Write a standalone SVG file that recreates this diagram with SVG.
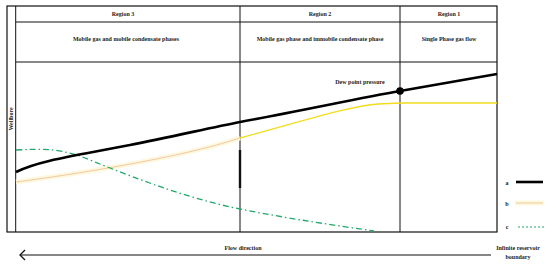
<svg xmlns="http://www.w3.org/2000/svg" width="550" height="267" viewBox="0 0 550 267">
<style>
text{font-family:"Liberation Serif","Times New Roman",serif;font-weight:bold;fill:#222;font-size:6px;text-anchor:middle}
.frame{fill:none;stroke:#111;stroke-width:1.2}
.grid{stroke:#111;stroke-width:1}
.pale{fill:none;stroke:#fef8dc;stroke-width:5}
.salmon{fill:none;stroke:#ecbc9c;stroke-width:0.8}
</style>
<defs>
<marker id="chev" markerWidth="10" markerHeight="12" refX="1" refY="6" orient="auto" markerUnits="userSpaceOnUse">
<path d="M6,1 L1,6 L6,11" fill="none" stroke="#111" stroke-width="1.3"/>
</marker>
</defs>
<rect width="550" height="267" fill="#fff"/>
<g id="frame">
<rect class="frame" x="7" y="6" width="490" height="226"/>
<line class="grid" x1="15.7" y1="6" x2="15.7" y2="232"/>
<line class="grid" x1="15.7" y1="22" x2="497" y2="22"/>
<line class="grid" x1="15.7" y1="62" x2="497" y2="62"/>
<line class="grid" x1="240" y1="6" x2="240" y2="232"/>
<line x1="240" y1="150" x2="240" y2="188" stroke="#111" stroke-width="2.4"/>
<line class="grid" x1="400" y1="6" x2="400" y2="232"/>
</g>
<g id="region3">
<text x="123" y="16">Region 3</text>
<text x="126" y="41">Mobile gas and mobile condensate phases</text>
</g>
<g id="region2">
<text x="320" y="16">Region 2</text>
<text x="320" y="41">Mobile gas phase and immobile condensate phase</text>
</g>
<g id="region1">
<text x="449" y="16">Region 1</text>
<text x="449" y="41">Single Phase gas flow</text>
</g>
<g id="wellbore">
<text transform="translate(13,119) rotate(-90)" font-size="5">Wellbore</text>
</g>
<g id="connectors">
<path class="pale" d="M16,182 C70,175 180,158 240,138"/>
<path class="salmon" d="M16,182 C70,175 180,158 240,138"/>
<path d="M240,138 C300,122 350,106 378,104 L400,103 L497,103" fill="none" stroke="#f2dc1e" stroke-width="1.3"/>
<path d="M16,150 C40,149 55,148 80,156 C120,172 180,197 240,209 C290,219 340,226 374,231" fill="none" stroke="#22a86a" stroke-width="1.3" stroke-dasharray="6,3,1.5,3"/>
<path d="M16,172 C40,160 80,155 130,145 C170,137 210,128 240,122 C300,111 360,98 400,91 L497,74" fill="none" stroke="#000" stroke-width="2.6"/>
<circle cx="400" cy="91" r="3.8" fill="#000"/>
<line x1="20" y1="255" x2="491" y2="255" stroke="#111" stroke-width="1.2" marker-start="url(#chev)"/>
</g>
<g id="dewpoint">
<text x="360" y="84">Dew point pressure</text>
</g>
<g id="legend">
<text x="507" y="185">a</text>
<line x1="516" y1="182" x2="543" y2="182" stroke="#000" stroke-width="2.6"/>
<text x="507" y="206">b</text>
<line class="pale" x1="515" y1="203" x2="544" y2="203"/>
<line class="salmon" x1="516" y1="203" x2="543" y2="203"/>
<text x="507" y="229">c</text>
<line x1="518" y1="227" x2="544" y2="227" stroke="#22a86a" stroke-width="1.2" stroke-dasharray="2,2"/>
</g>
<g id="labels">
<text x="243" y="250">Flow direction</text>
<text x="518" y="250">Infinite reservoir</text>
<text x="518" y="259">boundary</text>
</g>
</svg>
